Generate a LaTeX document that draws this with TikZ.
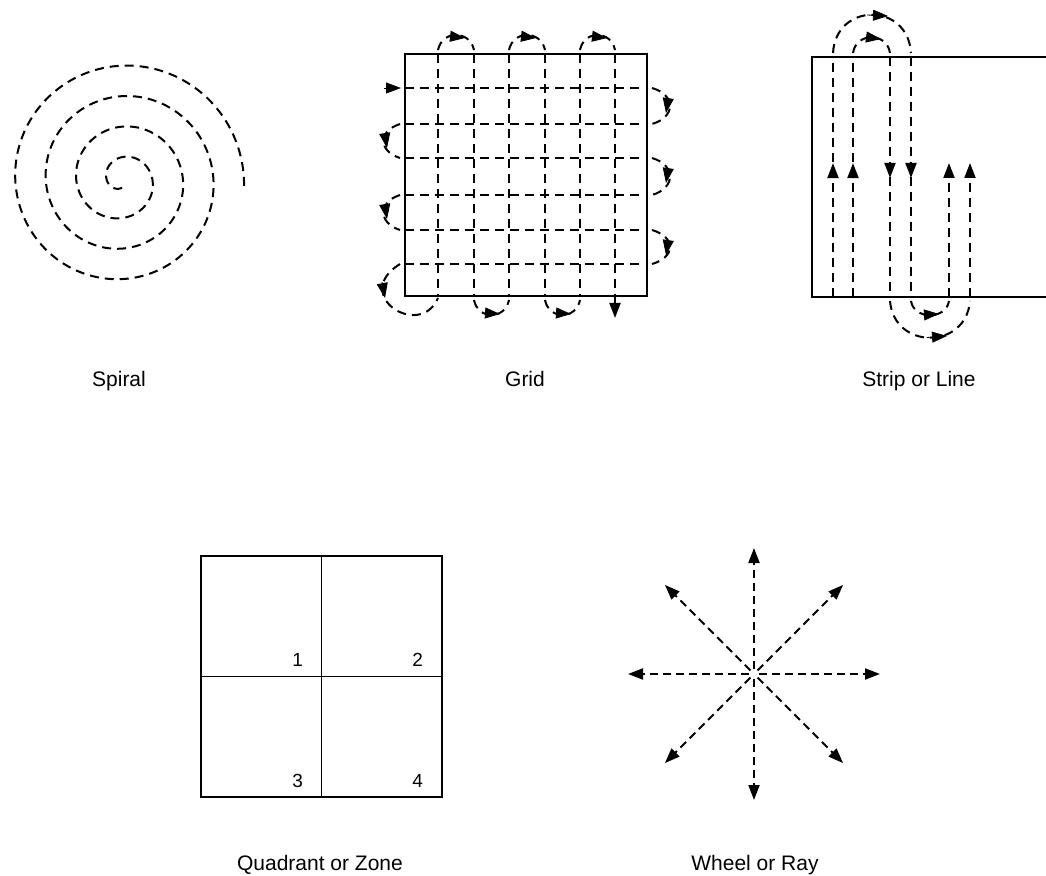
\documentclass[tikz,border=0pt]{standalone}
\usepackage{fontspec}
\setmainfont{Liberation Sans}
\usetikzlibrary{arrows.meta,decorations.markings}

\begin{document}
\begin{tikzpicture}[x=0.5pt, y=0.5pt, >={Triangle[length=7.5pt,width=5.5pt]},
    font=\fontsize{10.5}{12}\selectfont,
    dsh/.style={dash pattern=on 4.5pt off 3pt, line width=1pt},
    bx/.style={line width=1.2pt},
    mid/.style={postaction={decorate}, decoration={markings, mark=at position #1 with {\arrow{>}}}},
    lbl/.style={anchor=base},
    num/.style={anchor=base east, font=\fontsize{9.5}{11}\selectfont}]
  \useasboundingbox (0,0) rectangle (1046,875);

  % spiral
  \draw[dsh] plot[domain=90:1445, samples=300, smooth] ({122+0.0847*\x*cos(\x)}, {695-0.0847*\x*sin(\x)});
  \node[lbl] (spiral) at (119,488) {Spiral};

  % grid
  \draw[bx] (405,821) rectangle (647,579);
  \foreach \y in {787,751,717,680,645,611}
    \draw[dsh] (405,\y) -- (645,\y);
  \foreach \x in {438,474,509,545,580}
    \draw[dsh] (\x,821) -- (\x,579);
  \draw[dsh,->] (615,821) -- (615,557);
  \draw[->] (384,787) -- (401,787);
  \foreach \y/\yy in {787/751,717/680,645/611}{
    \draw[dsh] (652,\y) .. controls (676,\y-7) and (676,\yy+7) .. (652,\yy);
    \draw[->] (668,\y-12) -- (666,\y-25);
  }
  \foreach \y/\yy in {751/717,680/645}{
    \draw[dsh] (400,\y) .. controls (378,\y-7) and (378,\yy+7) .. (400,\yy);
    \draw[->] (385,\y-11) -- (387,\y-24);
  }
  \draw[dsh] (400,611) .. controls (350,580) and (420,535) .. (438,577);
  \draw[->] (382,593) -- (385,577);
  \foreach \x/\xx in {438/474,509/545,580/615}{
    \draw[dsh] (\x,825) .. controls (\x+4,845) and (\xx-4,845) .. (\xx,825);
    \draw[->] (\x+10,839) -- (\x+27,837);
  }
  \foreach \x/\xx in {474/509,545/580}{
    \draw[dsh] (\x,575) .. controls (\x+4,555) and (\xx-4,555) .. (\xx,575);
    \draw[->] (\x+11,562) -- (\x+26,561);
  }
  \node[lbl] (grid) at (525,488) {Grid};

  % strip or line
  \draw[bx] (1046,818) -- (812,818) -- (812,578) -- (1046,578);
  \foreach \x in {833,853}
    \draw[dsh, mid=0.558] (\x,578) -- (\x,818);
  \foreach \x in {890,911}
    \draw[dsh, mid=0.504] (\x,818) -- (\x,578);
  \foreach \x in {949,970}
    \draw[dsh,->] (\x,578) -- (\x,712);
  \draw[dsh] (833,822) .. controls (836,873) and (908,873) .. (911,822);
  \draw[->] (867,860) -- (888,859);
  \draw[dsh] (853,822) .. controls (856,843) and (887,843) .. (890,822);
  \draw[->] (866,838) -- (881,836);
  \draw[dsh] (911,574) .. controls (914,555) and (946,555) .. (949,574);
  \draw[->] (923,560) -- (939,561);
  \draw[dsh] (890,574) .. controls (894,525) and (966,525) .. (970,574);
  \draw[->] (927,537.5) -- (947,539);
  \node[lbl] (strip) at (919,488) {Strip or Line};

  % quadrant or zone
  \draw[bx] (201,319) rectangle (442,78);
  \draw[line width=0.9pt] (321.5,319) -- (321.5,78) (201,198.5) -- (442,198.5);
  \node[num] (q1) at (310,209) {1};
  \node[num] (q2) at (430,209) {2};
  \node[num] (q3) at (310,88) {3};
  \node[num] (q4) at (430,88) {4};
  \node[lbl] (quad) at (320,5) {Quadrant or Zone};

  % wheel or ray
  \foreach \a in {0,45,...,315}
    \draw[dsh, dash pattern=on 4pt off 2.5pt, ->] (754,201) ++(\a:5) -- ++(\a:121);
  \node[lbl] (wheel) at (755,5) {Wheel or Ray};
\end{tikzpicture}
\end{document}
